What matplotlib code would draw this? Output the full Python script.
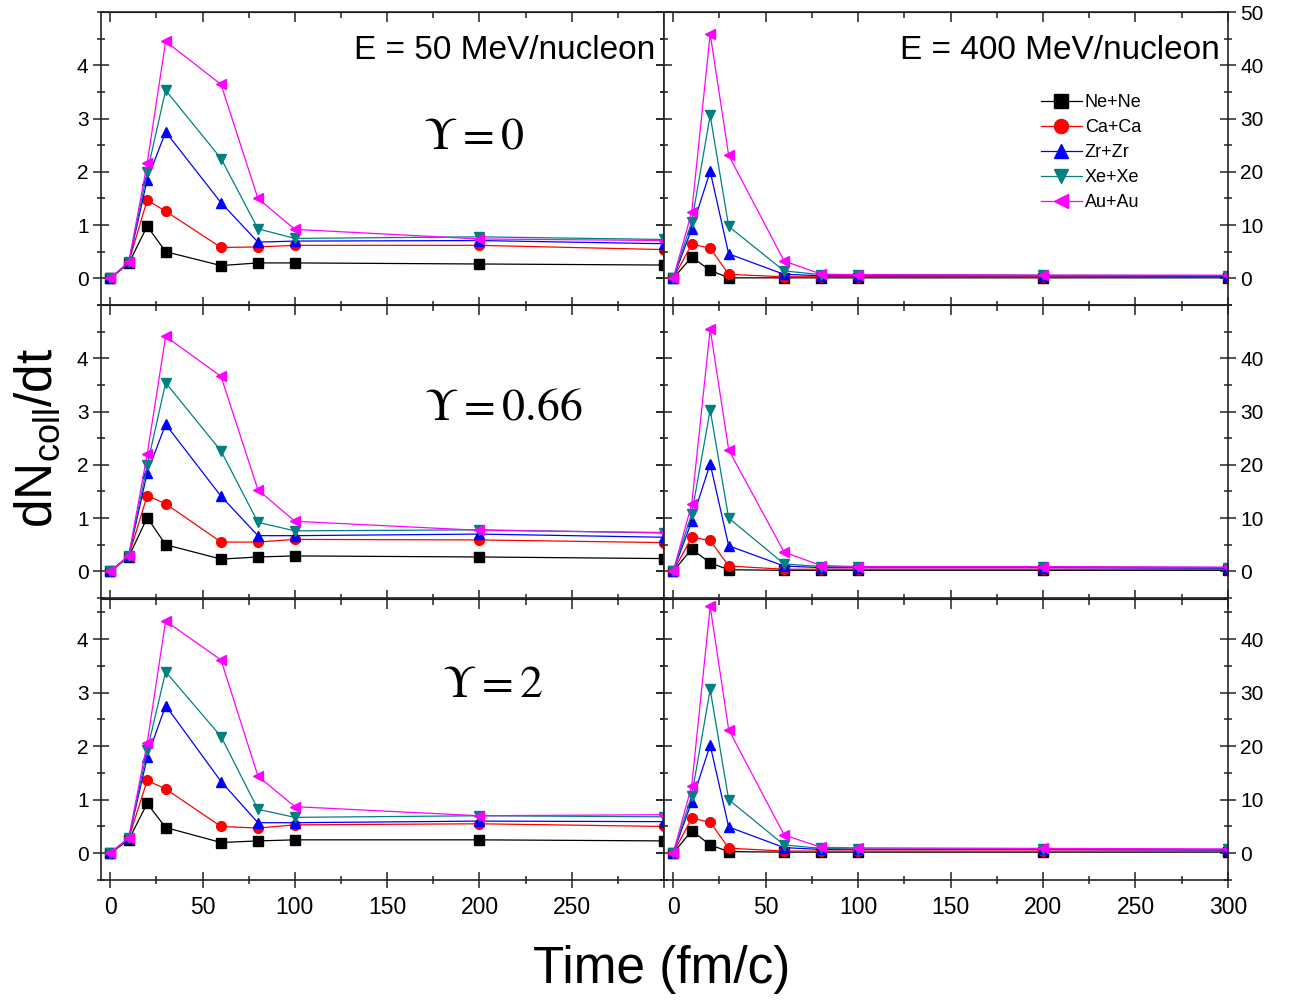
## Collision rate vs time, two beam energies x three Upsilon values ##

import matplotlib
matplotlib.use('Agg')
import matplotlib.pyplot as plt
from matplotlib.ticker import MultipleLocator

plt.rcParams['font.family'] = ['Liberation Sans', 'DejaVu Sans']
plt.rcParams['mathtext.fontset'] = 'custom'
plt.rcParams['mathtext.rm'] = 'Liberation Sans'
plt.rcParams['mathtext.it'] = 'Liberation Sans:italic'

## Data ##

t = [0, 10, 20, 30, 60, 80, 100, 200, 300]

systems = ['Ne+Ne', 'Ca+Ca', 'Zr+Zr', 'Xe+Xe', 'Au+Au']
colors = ['black', '#ff0000', '#0000ff', '#008080', '#ff00ff']
markers = ['s', 'o', '^', 'v', '<']
upsilons = ['0', '0.66', '2']

# E = 50 MeV/nucleon
e50_ups0 = [
    [0, 0.28, 0.98, 0.50, 0.24, 0.29, 0.29, 0.27, 0.25],
    [0, 0.30, 1.47, 1.26, 0.58, 0.59, 0.62, 0.62, 0.54],
    [0, 0.30, 1.85, 2.75, 1.42, 0.68, 0.70, 0.71, 0.65],
    [0, 0.30, 1.99, 3.53, 2.25, 0.93, 0.75, 0.78, 0.73],
    [0, 0.30, 2.16, 4.45, 3.64, 1.50, 0.92, 0.74, 0.71],
]
e50_ups066 = [
    [0, 0.27, 1.01, 0.50, 0.23, 0.27, 0.29, 0.27, 0.24],
    [0, 0.29, 1.42, 1.27, 0.55, 0.55, 0.60, 0.59, 0.54],
    [0, 0.29, 1.85, 2.76, 1.41, 0.67, 0.67, 0.70, 0.64],
    [0, 0.29, 1.99, 3.54, 2.26, 0.92, 0.76, 0.78, 0.72],
    [0, 0.29, 2.20, 4.41, 3.66, 1.53, 0.94, 0.77, 0.73],
]
e50_ups2 = [
    [0, 0.25, 0.93, 0.48, 0.20, 0.23, 0.25, 0.25, 0.23],
    [0, 0.28, 1.36, 1.20, 0.50, 0.47, 0.53, 0.55, 0.50],
    [0, 0.28, 1.79, 2.76, 1.34, 0.57, 0.57, 0.60, 0.59],
    [0, 0.28, 1.92, 3.39, 2.18, 0.82, 0.67, 0.70, 0.68],
    [0, 0.29, 2.06, 4.34, 3.61, 1.44, 0.87, 0.70, 0.72],
]

# E = 400 MeV/nucleon
e400_ups0 = [
    [0, 4.0, 1.5, 0.1, 0.1, 0.1, 0.1, 0.1, 0.1],
    [0, 6.4, 5.7, 0.75, 0.3, 0.3, 0.3, 0.3, 0.3],
    [0, 9.3, 20.1, 4.6, 0.75, 0.5, 0.5, 0.5, 0.4],
    [0, 10.6, 30.6, 9.75, 1.4, 0.7, 0.7, 0.6, 0.5],
    [0, 12.4, 45.9, 23.1, 3.25, 0.8, 0.7, 0.6, 0.6],
]
e400_ups066 = [
    [0, 4.2, 1.6, 0.3, 0.2, 0.2, 0.2, 0.2, 0.2],
    [0, 6.4, 5.8, 1.0, 0.4, 0.4, 0.4, 0.4, 0.4],
    [0, 9.4, 20.2, 4.8, 1.0, 0.7, 0.7, 0.7, 0.6],
    [0, 10.8, 30.3, 10.0, 1.4, 0.9, 0.8, 0.8, 0.7],
    [0, 12.6, 45.5, 22.8, 3.6, 1.1, 0.9, 0.9, 0.8],
]
e400_ups2 = [
    [0, 4.2, 1.55, 0.3, 0.2, 0.2, 0.2, 0.2, 0.2],
    [0, 6.55, 5.8, 0.94, 0.4, 0.4, 0.4, 0.4, 0.4],
    [0, 9.6, 20.2, 4.9, 1.05, 0.7, 0.7, 0.7, 0.6],
    [0, 10.75, 30.6, 10.0, 1.55, 0.9, 0.8, 0.8, 0.7],
    [0, 12.6, 46.1, 23.1, 3.4, 1.1, 1.0, 0.9, 0.8],
]

left_data = [e50_ups0, e50_ups066, e50_ups2]
right_data = [e400_ups0, e400_ups066, e400_ups2]

## Figure & panel layout ##

fig = plt.figure(figsize=(12.92, 10.01), dpi=100)

col_x = [0.0782, 0.5139]
col_w = [0.4358, 0.4365]
row_y = [0.6953, 0.4026, 0.1209]
row_h = [0.2927, 0.2927, 0.2807]

left_ylim = [(-0.5, 5), (-0.5, 5), (-0.5, 4.75)]
right_ylim = [(-5, 50), (-5, 50), (-5, 47.5)]
ups_pos = [(197, 2.67), (213, 3.07), (207, 3.15)]


def style_axis(ax, bottom_row):
    ax.set_xlim(-5, 300)
    ax.xaxis.set_major_locator(MultipleLocator(50))
    ax.xaxis.set_minor_locator(MultipleLocator(25))
    ax.tick_params(which='both', direction='inout', top=False, right=True,
                   width=1.1, colors='#222222', labelcolor='black')
    ax.tick_params(which='major', length=11)
    ax.tick_params(which='minor', length=6)
    ax.tick_params(axis='x', labelsize=16.5, pad=6)
    ax.tick_params(axis='y', labelsize=15)
    for s in ax.spines.values():
        s.set_linewidth(1.2)
        s.set_color('#222222')
    # inward ticks along the top edge
    top = ax.secondary_xaxis('top')
    top.xaxis.set_major_locator(MultipleLocator(50))
    top.xaxis.set_minor_locator(MultipleLocator(25))
    top.tick_params(which='both', direction='in', labeltop=False, width=1.1,
                    colors='#222222')
    top.tick_params(which='major', length=7)
    top.tick_params(which='minor', length=4)
    if not bottom_row:
        ax.tick_params(axis='x', labelbottom=False)


def draw_series(ax, data):
    for i in range(len(systems)):
        ax.plot(t, data[i], color=colors[i], marker=markers[i], markersize=7,
                linewidth=0.9, label=systems[i])


for r in range(3):
    # left column, E = 50 MeV/nucleon
    axl = fig.add_axes([col_x[0], row_y[r], col_w[0], row_h[r]])
    draw_series(axl, left_data[r])
    style_axis(axl, r == 2)
    axl.set_ylim(*left_ylim[r])
    axl.set_yticks([0, 1, 2, 3, 4])
    axl.yaxis.set_minor_locator(MultipleLocator(0.5))
    if r == 2:
        axl.set_xticks(range(0, 301, 50))
        axl.set_xticklabels(['0', '50', '100', '150', '200', '250', ''])
    axl.text(ups_pos[r][0], ups_pos[r][1], r'$\Upsilon = ' + upsilons[r] + '$',
             fontsize=33, ha='center', va='center', math_fontfamily='stix')

    # right column, E = 400 MeV/nucleon
    axr = fig.add_axes([col_x[1], row_y[r], col_w[1], row_h[r]])
    draw_series(axr, right_data[r])
    style_axis(axr, r == 2)
    axr.set_ylim(*right_ylim[r])
    axr.yaxis.tick_right()
    axr.tick_params(axis='y', which='both', left=True, right=True,
                    labelleft=False, labelright=True)
    if r == 0:
        axr.set_yticks([0, 10, 20, 30, 40, 50])
    else:
        axr.set_yticks([0, 10, 20, 30, 40])
    axr.yaxis.set_minor_locator(MultipleLocator(5))

    if r == 0:
        axl.text(0.985, 0.92, 'E = 50 MeV/nucleon', transform=axl.transAxes,
                 fontsize=24, ha='right', va='top')
        axr.text(0.985, 0.92, 'E = 400 MeV/nucleon', transform=axr.transAxes,
                 fontsize=24, ha='right', va='top')
        axr.legend(loc='upper left', bbox_to_anchor=(0.655, 0.745), frameon=False,
                   fontsize=13, handlelength=2.3, handletextpad=0.15,
                   labelspacing=0.45, markerscale=1.45, borderaxespad=0)

## Axis titles ##

fig.text(0.029, 0.563, r'dN$_{\mathrm{coll}}$/dt', rotation=90, fontsize=37,
         ha='center', va='center')
fig.text(0.512, 0.031, 'Time (fm/c)', fontsize=37, ha='center', va='center')

fig.savefig('out.png', dpi=100)
